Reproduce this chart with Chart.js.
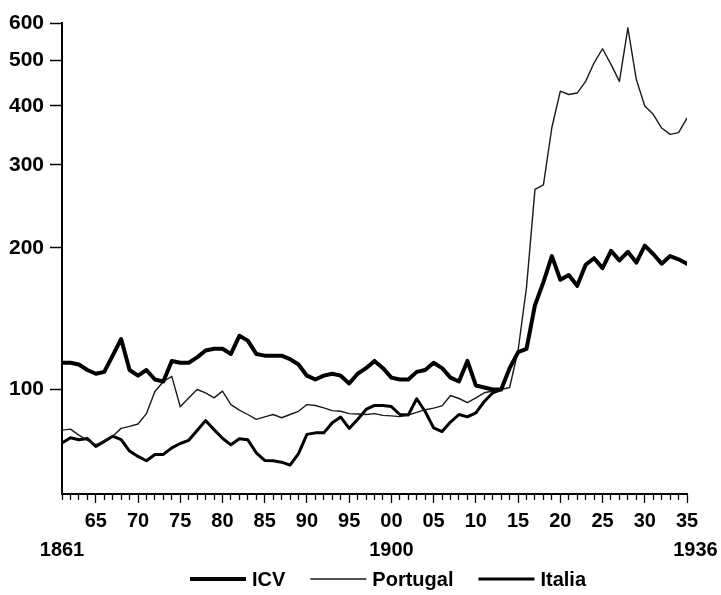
<!DOCTYPE html>
<html>
<head>
<meta charset="utf-8">
<script src="https://cdn.jsdelivr.net/npm/chart.js@4.4.1/dist/chart.umd.min.js"></script>
<style>
  html, body { margin: 0; padding: 0; background: #fff; }
</style>
</head>
<body>
<canvas id="chart" width="721" height="595"></canvas>
<script>
const firstYear = 1861;
const lastYear = 1935;
const years = Array.from({ length: lastYear - firstYear + 1 }, (_, i) => firstYear + i);

// index values, 1861-1935
const icv = [
  114, 114, 113, 110, 108, 109, 118, 128, 110, 107,
  110, 105, 104, 115, 114, 114, 117, 121, 122, 122,
  119, 130, 127, 119, 118, 118, 118, 116, 113, 107,
  105, 107, 108, 107, 103, 108, 111, 115, 111, 106,
  105, 105, 109, 110, 114, 111, 106, 104, 115, 102,
  101, 100, 100, 111, 120, 122, 151, 169, 192, 171,
  175, 166, 184, 190, 181, 197, 188, 196, 186, 202,
  194, 185, 192, 189, 185
];

const portugal = [
  82, 82.4, 80, 78, 76.4, 77.7, 79.6, 82.7, 83.5, 84.5,
  88.9, 99, 104, 106.6, 91.9, 95.9, 100, 98.4, 96, 99.2,
  92.9, 90.4, 88.5, 86.4, 87.5, 88.5, 87.1, 88.5, 89.9, 92.9,
  92.5, 91.4, 90.2, 89.9, 88.9, 88.7, 88.5, 88.9, 88.1, 87.9,
  87.6, 88.3, 89.4, 90.6, 91.3, 92.3, 97.1, 95.7, 93.8, 96,
  98.4, 99.3, 100, 101, 121, 165, 266, 272, 360, 430,
  423, 426, 451, 494, 529, 490, 451, 586, 455, 400,
  384, 359, 348, 351, 377
];

// Italia stops at 1913
const italia = [
  77, 79, 78.2, 78.7, 75.7, 77.6, 79.6, 78.3, 74, 72.1,
  70.6, 72.8, 72.8, 75.2, 76.8, 78, 81.8, 85.9, 82.2, 78.8,
  76.3, 78.6, 78.2, 73.4, 70.7, 70.6, 70.1, 69.1, 73.1, 80.3,
  80.9, 80.9, 85, 87.4, 82.7, 86.4, 90.7, 92.5, 92.5, 92,
  88.5, 88.3, 95.6, 89.8, 82.9, 81.4, 85.3, 88.5, 87.5, 89.2,
  94.3, 98.4, 100, null, null, null, null, null, null, null,
  null, null, null, null, null, null, null, null, null, null,
  null, null, null, null, null
];

const yTicks = [100, 200, 300, 400, 500, 600];
const bottomYears = [1861, 1900, 1936];

Chart.defaults.font.family = "'Liberation Sans', Arial, sans-serif";
Chart.defaults.color = '#000';

// second row of year labels + legend under the axis
const bottomText = {
  id: 'bottomText',
  afterDraw(chart) {
    const ctx = chart.ctx;
    const x = chart.scales.x;
    ctx.save();
    ctx.fillStyle = '#000';
    ctx.font = "bold 20px 'Liberation Sans', Arial, sans-serif";
    ctx.textBaseline = 'middle';
    ctx.textAlign = 'center';
    bottomYears.forEach(yr => {
      ctx.fillText(String(yr), x.getPixelForValue(yr), 550);
    });

    ctx.textAlign = 'left';
    let lx = 190;
    const ly = 579;
    chart.data.datasets.forEach(ds => {
      ctx.beginPath();
      ctx.strokeStyle = ds.borderColor;
      ctx.lineWidth = ds.borderWidth;
      ctx.moveTo(lx, ly);
      ctx.lineTo(lx + 56, ly);
      ctx.stroke();
      lx += 62;
      ctx.fillText(ds.label, lx, ly + 1);
      lx += ctx.measureText(ds.label).width + 25;
    });
    ctx.restore();
  }
};

const ctx = document.getElementById('chart').getContext('2d');
new Chart(ctx, {
  type: 'line',
  data: {
    labels: years,
    datasets: [
      { label: 'ICV', data: icv, borderColor: '#000', borderWidth: 4 },
      { label: 'Portugal', data: portugal, borderColor: '#1a1a1a', borderWidth: 1.4 },
      { label: 'Italia', data: italia, borderColor: '#000', borderWidth: 3 }
    ]
  },
  options: {
    responsive: false,
    animation: false,
    layout: { padding: { top: 23, right: 34, left: 0, bottom: 0 } },
    elements: {
      point: { radius: 0 },
      line: { tension: 0, borderJoinStyle: 'round', borderCapStyle: 'round' }
    },
    plugins: {
      legend: { display: false },
      tooltip: { enabled: false }
    },
    scales: {
      x: {
        type: 'linear',
        min: firstYear,
        max: lastYear,
        border: { color: '#000', width: 2 },
        grid: {
          drawOnChartArea: false,
          tickLength: 9,
          tickWidth: 1.3,
          tickColor: '#000',
          tickBorderDash: c => (c.tick && c.tick.value % 5 === 0) ? [] : [5, 20]
        },
        ticks: {
          stepSize: 1,
          autoSkip: false,
          maxRotation: 0,
          padding: 6,
          font: { size: 20, weight: 'bold' },
          callback: v => v % 5 === 0 ? String(v).slice(2) : ''
        },
        afterFit: s => { s.height = 101; }
      },
      y: {
        type: 'logarithmic',
        min: 60,
        max: 600,
        border: { color: '#000', width: 2 },
        grid: { drawOnChartArea: false, tickLength: 12, tickWidth: 1.5, tickColor: '#000' },
        ticks: {
          padding: 6,
          font: { size: 21, weight: 'bold' },
          callback: v => String(v)
        },
        afterBuildTicks: s => { s.ticks = yTicks.map(v => ({ value: v })); },
        afterFit: s => { s.width = 62; }
      }
    }
  },
  plugins: [bottomText]
});
</script>
</body>
</html>
